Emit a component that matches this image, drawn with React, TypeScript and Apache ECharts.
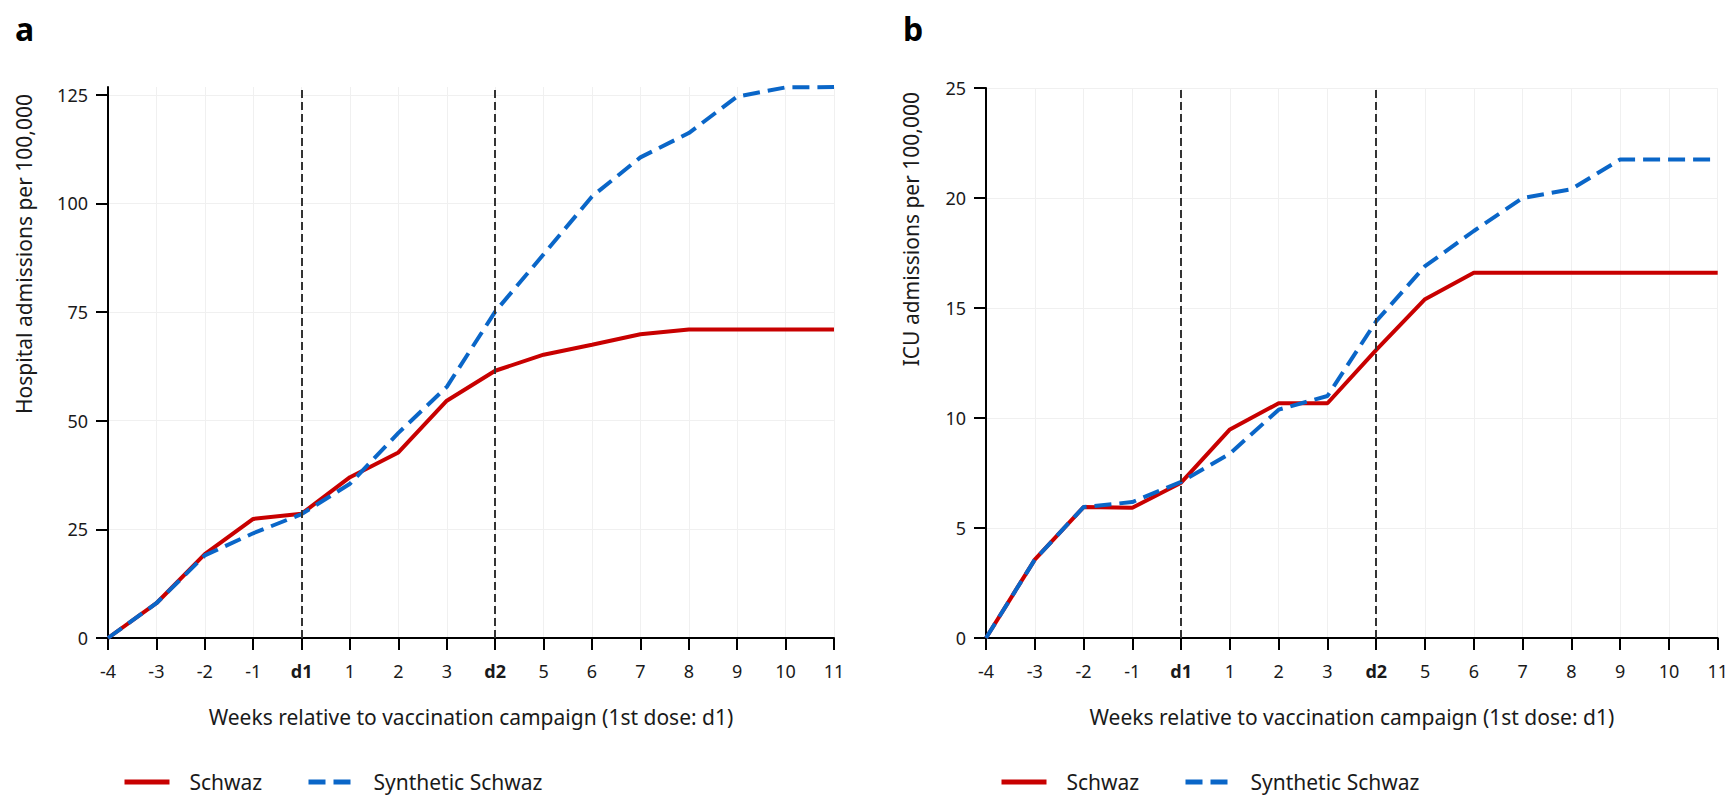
import React, { useEffect, useRef } from 'react';
import * as echarts from 'echarts';

const weeks = ['-4', '-3', '-2', '-1', 'd1', '1', '2', '3', 'd2', '5', '6', '7', '8', '9', '10', '11'];
const hospitalSchwaz = [0, 8.0, 19.3, 27.4, 28.6, 37.0, 42.7, 54.6, 61.5, 65.2, 67.5, 69.9, 71.0, 71.0, 71.0, 71.0];
const hospitalSynthetic = [0, 8.0, 19.0, 24.1, 28.5, 35.5, 47.2, 57.8, 75.1, 88.3, 101.6, 110.6, 116.2, 124.6, 126.7, 126.8];
const icuSchwaz = [0, 3.56, 5.95, 5.92, 7.06, 9.48, 10.67, 10.67, 13.1, 15.4, 16.6, 16.6, 16.6, 16.6, 16.6, 16.6];
const icuSynthetic = [0, 3.56, 5.95, 6.18, 7.1, 8.38, 10.38, 11.0, 14.4, 16.9, 18.5, 20.0, 20.4, 21.75, 21.75, 21.75];
const hospitalTicks = [0, 25, 50, 75, 100, 125];
const icuTicks = [0, 5, 10, 15, 20, 25];
const doseMarks = ['d1', 'd2'];

const FONT = "'Noto Sans', sans-serif";
const RED = '#c80000';
const BLUE = '#0a66c8';
const TEXT = '#1a1a1a';
const GRIDLINE = '#f0f0f0';
const X_TITLE = 'Weeks relative to vaccination campaign (1st dose: d1)';

function xAxis(gridIndex: number) {
  return {
    type: 'category',
    gridIndex,
    data: weeks,
    boundaryGap: false,
    axisLine: { show: true, lineStyle: { color: '#000', width: 2 } },
    axisTick: { show: true, length: 12, interval: 0, lineStyle: { color: '#000', width: 2 } },
    axisLabel: {
      interval: 0,
      margin: 24,
      fontSize: 18,
      fontFamily: FONT,
      color: TEXT,
      formatter: (v: string) => (v.startsWith('d') ? `{b|${v}}` : v),
      rich: { b: { fontWeight: 'bold', fontSize: 18, fontFamily: FONT, color: TEXT } },
    },
    splitLine: { show: true, interval: 0, lineStyle: { color: GRIDLINE, width: 1 } },
    name: X_TITLE,
    nameLocation: 'middle',
    nameGap: 68,
    nameTextStyle: { fontSize: 21, fontFamily: FONT, color: TEXT },
  };
}

function yAxis(gridIndex: number, max: number, interval: number, ticks: number[]) {
  return {
    type: 'value',
    gridIndex,
    min: 0,
    max,
    interval,
    axisLine: { show: true, lineStyle: { color: '#000', width: 2 } },
    axisTick: { show: true, length: 12, lineStyle: { color: '#000', width: 2 }, customValues: ticks },
    axisLabel: { margin: 20, fontSize: 18, fontFamily: FONT, color: TEXT, customValues: ticks },
    splitLine: { show: true, lineStyle: { color: GRIDLINE, width: 1 } },
  };
}

function seriesPair(idx: number, schwaz: number[], synthetic: number[]) {
  return [
    {
      name: 'Schwaz',
      type: 'line',
      xAxisIndex: idx,
      yAxisIndex: idx,
      data: schwaz,
      symbol: 'none',
      lineStyle: { color: RED, width: 4 },
      itemStyle: { color: RED },
      z: 2,
      markLine: {
        silent: true,
        symbol: ['none', 'none'],
        label: { show: false },
        lineStyle: { type: [8, 4], color: '#333', width: 2 },
        data: doseMarks.map((d) => ({ xAxis: d })),
      },
    },
    {
      name: 'Synthetic Schwaz',
      type: 'line',
      xAxisIndex: idx,
      yAxisIndex: idx,
      data: synthetic,
      symbol: 'none',
      lineStyle: { color: BLUE, width: 4, type: [17, 8] },
      itemStyle: { color: BLUE },
      z: 3,
    },
  ];
}

function legendItem(name: string, left: number) {
  return {
    data: [name],
    left,
    top: 771,
    padding: 0,
    itemWidth: 45,
    itemHeight: 22,
    selectedMode: false,
    itemStyle: { opacity: 0 },
    lineStyle: { width: 5 },
    textStyle: { fontSize: 21, lineHeight: 22, fontFamily: FONT, color: TEXT, padding: [0, 0, 0, 15] },
  };
}

export default function App() {
  const ref = useRef<HTMLDivElement>(null);
  useEffect(() => {
    const chart = echarts.init(ref.current!, null, { renderer: 'svg' });
    chart.setOption({
      animation: false,
      backgroundColor: '#fff',
      grid: [
        { left: 108, top: 87, width: 726, height: 551 },
        { left: 986, top: 88, width: 735, height: 550 },
      ],
      xAxis: [xAxis(0), xAxis(1)],
      yAxis: [yAxis(0, 126.8, 25, hospitalTicks), yAxis(1, 25, 5, icuTicks)],
      legend: [
        legendItem('Schwaz', 122),
        legendItem('Synthetic Schwaz', 306),
        legendItem('Schwaz', 999),
        legendItem('Synthetic Schwaz', 1183),
      ],
      graphic: [
        { type: 'text', left: 15, top: 12, style: { text: 'a', fontSize: 32, fontWeight: 'bold', fontFamily: FONT, fill: '#000' } },
        { type: 'text', left: 903, top: 12, style: { text: 'b', fontSize: 32, fontWeight: 'bold', fontFamily: FONT, fill: '#000' } },
        {
          type: 'text', x: 24, y: 94, rotation: Math.PI / 2,
          style: { text: 'Hospital admissions per 100,000', fontSize: 21, fontFamily: FONT, fill: TEXT, align: 'right', verticalAlign: 'middle' },
        },
        {
          type: 'text', x: 911, y: 92, rotation: Math.PI / 2,
          style: { text: 'ICU admissions per 100,000', fontSize: 21, fontFamily: FONT, fill: TEXT, align: 'right', verticalAlign: 'middle' },
        },
      ],
      series: [...seriesPair(0, hospitalSchwaz, hospitalSynthetic), ...seriesPair(1, icuSchwaz, icuSynthetic)],
    });
    return () => chart.dispose();
  }, []);
  return <div ref={ref} style={{ position: 'fixed', left: 0, top: 0, width: 1731, height: 798 }} />;
}
